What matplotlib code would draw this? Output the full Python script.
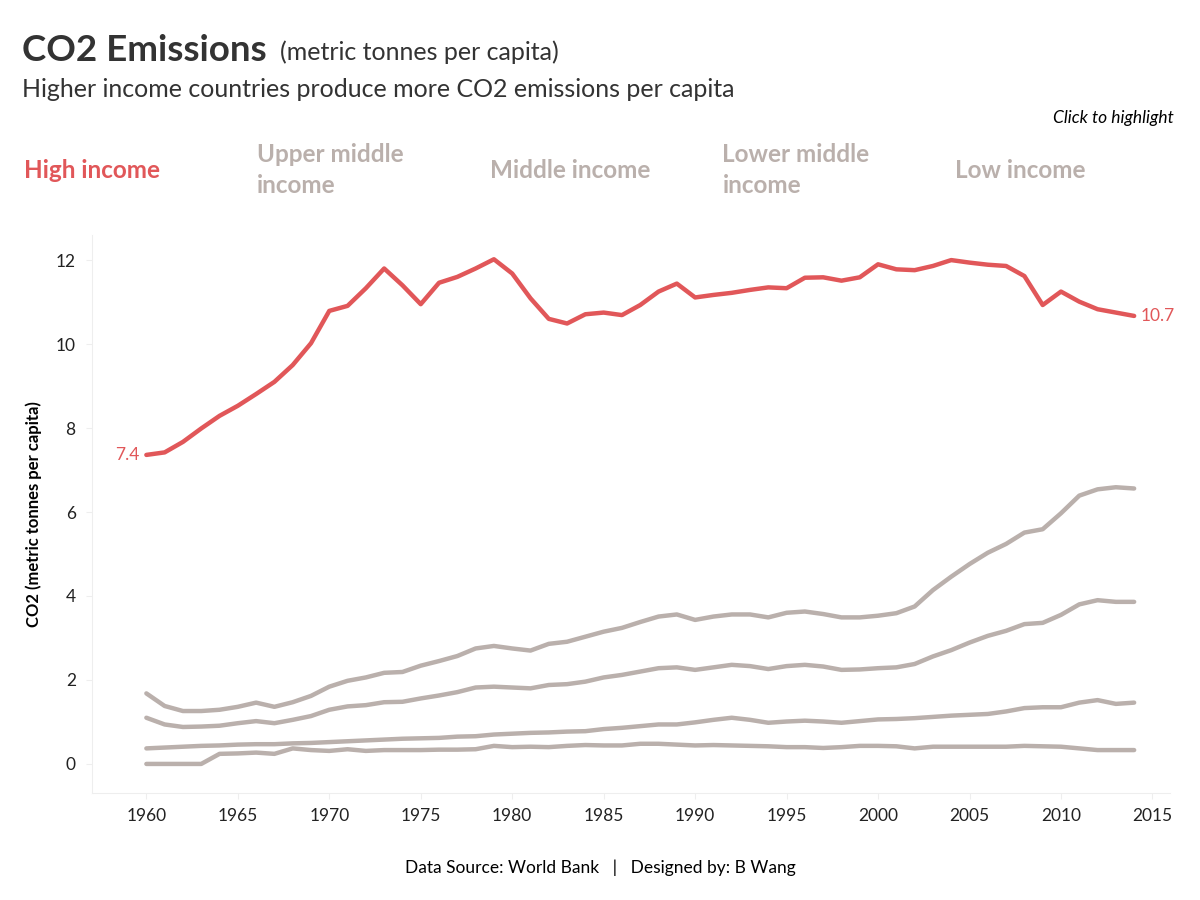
import matplotlib
matplotlib.use('Agg')
from matplotlib import pyplot as plt

years = list(range(1960, 2015))

high_income = [7.36, 7.42, 7.67, 7.99, 8.29, 8.53, 8.81, 9.10, 9.50, 10.02,
               10.79, 10.91, 11.33, 11.80, 11.40, 10.95, 11.46, 11.60, 11.80, 12.02,
               11.68, 11.09, 10.60, 10.49, 10.71, 10.75, 10.69, 10.93, 11.25, 11.44,
               11.11, 11.17, 11.22, 11.29, 11.35, 11.33, 11.58, 11.59, 11.51, 11.59,
               11.90, 11.78, 11.76, 11.86, 12.00, 11.94, 11.89, 11.86, 11.62, 10.93,
               11.25, 11.01, 10.83, 10.75, 10.67]

upper_middle = [1.68, 1.38, 1.26, 1.26, 1.29, 1.36, 1.46, 1.36, 1.47, 1.62,
                1.84, 1.98, 2.06, 2.17, 2.19, 2.34, 2.45, 2.57, 2.75, 2.81,
                2.75, 2.70, 2.86, 2.91, 3.03, 3.15, 3.24, 3.38, 3.51, 3.56,
                3.43, 3.51, 3.56, 3.56, 3.49, 3.60, 3.63, 3.57, 3.49, 3.49,
                3.53, 3.59, 3.75, 4.14, 4.46, 4.76, 5.03, 5.24, 5.51, 5.59,
                5.97, 6.39, 6.54, 6.59, 6.56]

middle = [1.10, 0.94, 0.88, 0.89, 0.91, 0.97, 1.02, 0.97, 1.05, 1.14,
          1.29, 1.37, 1.40, 1.47, 1.48, 1.56, 1.63, 1.71, 1.82, 1.84,
          1.82, 1.80, 1.88, 1.90, 1.96, 2.06, 2.12, 2.20, 2.28, 2.30,
          2.24, 2.30, 2.36, 2.33, 2.26, 2.33, 2.36, 2.32, 2.24, 2.25,
          2.28, 2.30, 2.38, 2.56, 2.71, 2.89, 3.05, 3.17, 3.33, 3.36,
          3.55, 3.80, 3.90, 3.86, 3.86]

lower_middle = [0.37, 0.39, 0.41, 0.43, 0.44, 0.46, 0.47, 0.47, 0.49, 0.50,
                0.52, 0.54, 0.56, 0.58, 0.60, 0.61, 0.62, 0.65, 0.66, 0.70,
                0.72, 0.74, 0.75, 0.77, 0.78, 0.83, 0.86, 0.90, 0.94, 0.94,
                0.99, 1.05, 1.10, 1.05, 0.98, 1.01, 1.03, 1.01, 0.98, 1.02,
                1.06, 1.07, 1.09, 1.12, 1.15, 1.17, 1.19, 1.25, 1.33, 1.35,
                1.35, 1.46, 1.52, 1.43, 1.46]

low_income = [0.00, 0.00, 0.00, 0.00, 0.24, 0.25, 0.27, 0.24, 0.37, 0.33,
              0.31, 0.35, 0.31, 0.33, 0.33, 0.33, 0.34, 0.34, 0.35, 0.43,
              0.40, 0.41, 0.40, 0.43, 0.45, 0.44, 0.44, 0.48, 0.48, 0.46,
              0.44, 0.45, 0.44, 0.43, 0.42, 0.40, 0.40, 0.38, 0.40, 0.43,
              0.43, 0.42, 0.37, 0.41, 0.41, 0.41, 0.41, 0.41, 0.43, 0.42,
              0.41, 0.37, 0.33, 0.33, 0.33]

legend_labels = ['High income', 'Upper middle\nincome', 'Middle income',
                 'Lower middle\nincome', 'Low income']

RED = '#e15759'
GREY = '#bab0ac'
FONT = ['Lato', 'DejaVu Sans']

plt.rcParams['font.family'] = FONT

fig = plt.figure(figsize=(12, 9), dpi=100)
ax = fig.add_axes([0.077, 0.119, 0.898, 0.62])

for series in [low_income, lower_middle, middle, upper_middle]:
    ax.plot(years, series, color=GREY, lw=3.2, solid_capstyle='round')
ax.plot(years, high_income, color=RED, lw=3.2, solid_capstyle='round')

ax.text(years[0] - 0.35, high_income[0], f'{high_income[0]:.1f}', color=RED,
        fontsize=12.5, ha='right', va='center')
ax.text(years[-1] + 0.35, high_income[-1], f'{high_income[-1]:.1f}', color=RED,
        fontsize=12.5, ha='left', va='center')

ax.set_xlim(1957.05, 2015.96)
ax.set_ylim(-0.69, 12.6)
ax.set_xticks(range(1960, 2016, 5))
ax.set_yticks(range(0, 13, 2))
ax.tick_params(axis='both', labelsize=12.5, color='#eeeeee', length=4,
               labelcolor='#222222')
ax.tick_params(axis='y', pad=8)
ax.tick_params(axis='x', pad=7)
for side in ['top', 'right']:
    ax.spines[side].set_visible(False)
for side in ['left', 'bottom']:
    ax.spines[side].set_color('#eeeeee')
ax.set_ylabel('CO2 (metric tonnes per capita)', fontsize=12, fontweight='bold',
              labelpad=10)

# titles
fig.text(0.018, 0.944, 'CO2 Emissions', fontsize=26.5, fontweight='bold',
         color='#333333', va='center')
fig.text(0.233, 0.942, '(metric tonnes per capita)', fontsize=18,
         color='#333333', va='center')
fig.text(0.018, 0.901, 'Higher income countries produce more CO2 emissions per capita',
         fontsize=18, color='#333333', va='center')
fig.text(0.978, 0.869, 'Click to highlight', fontsize=12.5, style='italic',
         ha='right', va='center')

legend_x = [0.020, 0.214, 0.408, 0.602, 0.796]
for i, (lab, lx) in enumerate(zip(legend_labels, legend_x)):
    fig.text(lx, 0.811, lab, fontsize=17.5, fontweight='bold',
             color=RED if i == 0 else GREY, va='center', linespacing=1.45)

fig.text(0.5, 0.036, 'Data Source: World Bank   |   Designed by: B Wang',
         fontsize=12.5, ha='center', va='center')

fig.savefig('out.png', dpi=100, facecolor='white')
